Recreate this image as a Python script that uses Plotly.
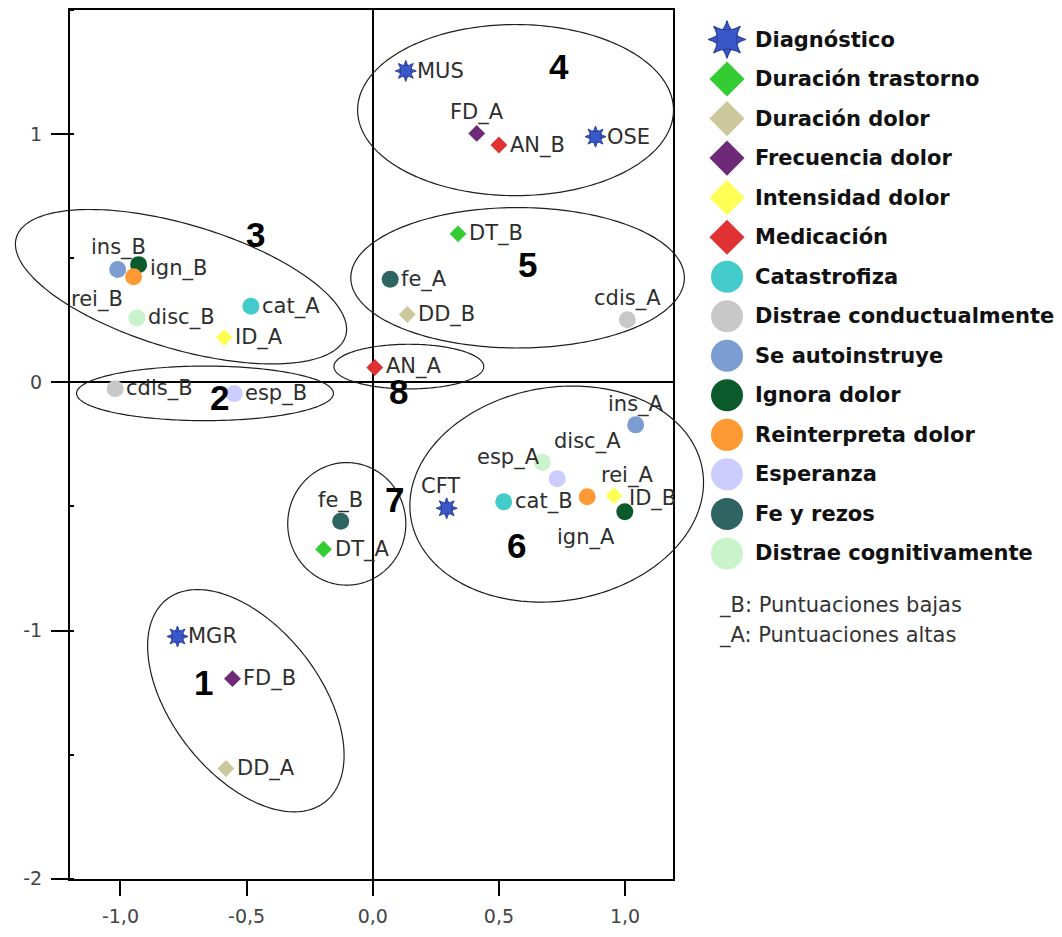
import numpy as np
import plotly.graph_objects as go

# ---------------- data ----------------
CATEGORIES = ["Diagnóstico", "Duración trastorno", "Duración dolor", "Frecuencia dolor",
              "Intensidad dolor", "Medicación", "Catastrofiza", "Distrae conductualmente",
              "Se autoinstruye", "Ignora dolor", "Reinterpreta dolor", "Esperanza",
              "Fe y rezos", "Distrae cognitivamente"]

POINT_NAMES = ["MUS", "OSE", "CFT", "MGR",
               "DT_B", "DT_A",
               "DD_B", "DD_A",
               "FD_A", "FD_B",
               "ID_A", "ID_B",
               "AN_B", "AN_A",
               "cat_A", "cat_B",
               "cdis_A", "cdis_B",
               "ins_A", "ins_B",
               "ign_A", "ign_B",
               "rei_A", "rei_B",
               "esp_A", "esp_B",
               "fe_A", "fe_B",
               "disc_A", "disc_B"]
POINT_X = [0.131, 0.883, 0.293, -0.774,
           0.338, -0.195,
           0.137, -0.582,
           0.412, -0.556,
           -0.589, 0.956,
           0.500, 0.008,
           -0.483, 0.519,
           1.009, -1.021,
           1.042, -1.011,
           0.999, -0.928,
           0.850, -0.948,
           0.731, -0.549,
           0.069, -0.127,
           0.672, -0.935]
POINT_Y = [1.256, 0.991, -0.507, -1.024,
           0.599, -0.672,
           0.274, -1.556,
           1.004, -1.194,
           0.181, -0.457,
           0.957, 0.060,
           0.307, -0.481,
           0.253, -0.025,
           -0.171, 0.455,
           -0.521, 0.475,
           -0.461, 0.426,
           -0.388, -0.045,
           0.416, -0.560,
           -0.323, 0.260]
POINT_CATEGORY = [0, 0, 0, 0,
                  1, 1,
                  2, 2,
                  3, 3,
                  4, 4,
                  5, 5,
                  6, 6,
                  7, 7,
                  8, 8,
                  9, 9,
                  10, 10,
                  11, 11,
                  12, 12,
                  13, 13]

CLUSTER_LABELS = ["1", "2", "3", "4", "5", "6", "7", "8"]
CLUSTER_X = [-0.669, -0.606, -0.463, 0.737, 0.614, 0.570, 0.087, 0.103]
CLUSTER_Y = [-1.211, -0.060, 0.598, 1.275, 0.474, -0.657, -0.470, -0.036]

# ellipses: centre x, centre y, semi-axis a, semi-axis b, rotation (deg)
ELLIPSES = [(-0.503, -1.283, 0.515, 0.295, -53),
            (-0.665, -0.044, 0.509, 0.110, 0),
            (-0.760, 0.386, 0.682, 0.250, -17),
            (0.566, 1.098, 0.626, 0.345, 0),
            (0.574, 0.422, 0.661, 0.283, 0),
            (0.729, -0.450, 0.586, 0.430, 10),
            (-0.103, -0.570, 0.234, 0.247, 0),
            (0.143, 0.064, 0.297, 0.090, 0)]

X_TICKS = [-1.0, -0.5, 0.0, 0.5, 1.0]
X_TICKTEXT = ["-1,0", "-0,5", "0,0", "0,5", "1,0"]
Y_TICKS = [1, 0, -1, -2]
Y_TICKTEXT = ["1", "0", "-1", "-2"]

NOTES = ["_B: Puntuaciones bajas", "_A: Puntuaciones altas"]

# ---------------- styles ----------------
COLORS = ["#3b58c8", "#33cc33", "#cdc89c", "#6e2a78", "#ffff55", "#e03232",
          "#44cccc", "#c8c8c8", "#7b9dd2", "#0b5a2c", "#ff9933", "#ccccff",
          "#2e6462", "#cbf3cb"]
SYMBOLS = ["star", "diamond", "diamond", "diamond", "diamond", "diamond",
           "circle", "circle", "circle", "circle", "circle", "circle", "circle", "circle"]

# label placement: (xanchor, dx px, dy px (down positive))
LABEL_POS = {
    "FD_A": ("center", 0, -21), "cdis_A": ("center", 0, -21), "ins_A": ("center", 0, -20),
    "CFT": ("center", -6, -22), "fe_B": ("center", 0, -21), "ins_B": ("center", 1, -22),
    "esp_A": ("right", -15, -21), "disc_A": ("left", 10, -21), "rei_A": ("left", 12, -21),
    "ID_B": ("left", 13, 3), "ign_A": ("right", -8, 26), "rei_B": ("right", -9, 23),
    "ign_B": ("left", 9, 4), "AN_A": ("left", 9, -1),
}
DEFAULT_POS = ("left", 9, 0)

X_RANGE = [-1.2, 1.19]
Y_RANGE = [-2.0, 1.502]
W, H = 1062, 937
XD = [70 / W, 673 / W]
YD = [(H - 889) / H, (H - 10) / H]

LABEL_FONT = dict(family="DejaVu Sans", size=21, color="#2e2e2e")
LEGEND_FONT = dict(family="DejaVu Sans", size=21, color="#111111", weight="bold")

fig = go.Figure()

# ---------------- main scatter ----------------
for ci, cat in enumerate(CATEGORIES):
    idx = [i for i, c in enumerate(POINT_CATEGORY) if c == ci]
    xs = [POINT_X[i] for i in idx]
    ys = [POINT_Y[i] for i in idx]
    if SYMBOLS[ci] == "star":
        for ang in (0, 45):
            fig.add_trace(go.Scatter(
                x=xs, y=ys, mode="markers", showlegend=False, hoverinfo="skip",
                marker=dict(symbol="star-diamond", size=15, angle=ang, color=COLORS[ci],
                            line=dict(color="#2a3f9e", width=1))))
    else:
        fig.add_trace(go.Scatter(
            x=xs, y=ys, mode="markers", showlegend=False, hoverinfo="skip",
            marker=dict(symbol=SYMBOLS[ci], size=17 if SYMBOLS[ci] == "circle" else 13,
                        color=COLORS[ci], line=dict(width=0))))

annotations = []
for i, name in enumerate(POINT_NAMES):
    xa, dx, dy = LABEL_POS.get(name, DEFAULT_POS)
    annotations.append(dict(x=POINT_X[i], y=POINT_Y[i], xref="x", yref="y", text=name,
                            showarrow=False, xanchor=xa, yanchor="middle",
                            xshift=dx, yshift=-dy, font=LABEL_FONT))

for lab, cx, cy in zip(CLUSTER_LABELS, CLUSTER_X, CLUSTER_Y):
    annotations.append(dict(x=cx, y=cy, xref="x", yref="y", text=lab, showarrow=False,
                            xanchor="center", yanchor="middle",
                            font=dict(family="Liberation Sans, Arial", size=35,
                                      color="#000000", weight="bold")))

# ---------------- ellipses (paper coords so they can leave the plot area) ----------------
def to_paper_x(x):
    return XD[0] + (x - X_RANGE[0]) / (X_RANGE[1] - X_RANGE[0]) * (XD[1] - XD[0])

def to_paper_y(y):
    return YD[0] + (y - Y_RANGE[0]) / (Y_RANGE[1] - Y_RANGE[0]) * (YD[1] - YD[0])

shapes = []
t = np.linspace(0, 2 * np.pi, 240)
for cx, cy, a, b, ang in ELLIPSES:
    th = np.deg2rad(ang)
    u, v = a * np.cos(t), b * np.sin(t)
    ex = cx + u * np.cos(th) - v * np.sin(th)
    ey = cy + u * np.sin(th) + v * np.cos(th)
    px, py = to_paper_x(ex), to_paper_y(ey)
    path = "M " + " L ".join(f"{p:.5f},{q:.5f}" for p, q in zip(px, py)) + " Z"
    shapes.append(dict(type="path", path=path, xref="paper", yref="paper",
                       line=dict(color="#1e1e1e", width=1.2), layer="above"))

# ---------------- manual legend ----------------
LEG_MARKER_X = 27
LEG_TEXT_X = 53
for ci, cat in enumerate(CATEGORIES):
    if SYMBOLS[ci] == "star":
        for ang in (0, 45):
            fig.add_trace(go.Scatter(
                x=[LEG_MARKER_X], y=[ci], xaxis="x2", yaxis="y2", mode="markers",
                showlegend=False, hoverinfo="skip",
                marker=dict(symbol="star-diamond", size=27, angle=ang, color=COLORS[ci],
                            line=dict(color="#2a3f9e", width=1.2))))
    else:
        fig.add_trace(go.Scatter(
            x=[LEG_MARKER_X], y=[ci], xaxis="x2", yaxis="y2", mode="markers",
            showlegend=False, hoverinfo="skip",
            marker=dict(symbol=SYMBOLS[ci], size=32 if SYMBOLS[ci] == "circle" else 27,
                        color=COLORS[ci], line=dict(width=0))))
    annotations.append(dict(x=LEG_TEXT_X, y=ci, xref="x2", yref="y2", text=cat,
                            showarrow=False, xanchor="left", yanchor="middle",
                            font=LEGEND_FONT))

for k, note in enumerate(NOTES):
    annotations.append(dict(x=717 / W, y=1 - (613 + 30 * k) / H, xref="paper", yref="paper",
                            text=note, showarrow=False, xanchor="left", yanchor="middle",
                            font=dict(family="DejaVu Sans", size=21, color="#333333")))

axis_common = dict(showgrid=False, showline=True, linecolor="#000000", linewidth=2,
                   mirror=True, zeroline=True, zerolinecolor="#000000", zerolinewidth=2,
                   ticks="outside", tickcolor="#000000", tickwidth=2,
                   tickfont=dict(family="DejaVu Sans", size=19, color="#444444"))

fig.update_layout(
    width=W, height=H, margin=dict(l=0, r=0, t=0, b=0),
    paper_bgcolor="white", plot_bgcolor="white", showlegend=False,
    xaxis=dict(domain=XD, range=X_RANGE, tickvals=X_TICKS, ticktext=X_TICKTEXT,
               ticklen=15, ticklabelstandoff=5, **axis_common),
    yaxis=dict(domain=YD, range=Y_RANGE, tickvals=Y_TICKS, ticktext=Y_TICKTEXT,
               ticklen=17, ticklabelstandoff=5,
               minor=dict(ticks="inside", ticklen=4, dtick=0.5, tick0=0, tickcolor="#000000"),
               **axis_common),
    xaxis2=dict(domain=[700 / W, 1.0], range=[0, W - 700], anchor="y2", visible=False,
                fixedrange=True),
    yaxis2=dict(domain=[0, 1], range=[H / 40 - 1, -1], anchor="x2", visible=False,
                fixedrange=True),
    shapes=shapes, annotations=annotations,
)

fig.write_html("out.html")
